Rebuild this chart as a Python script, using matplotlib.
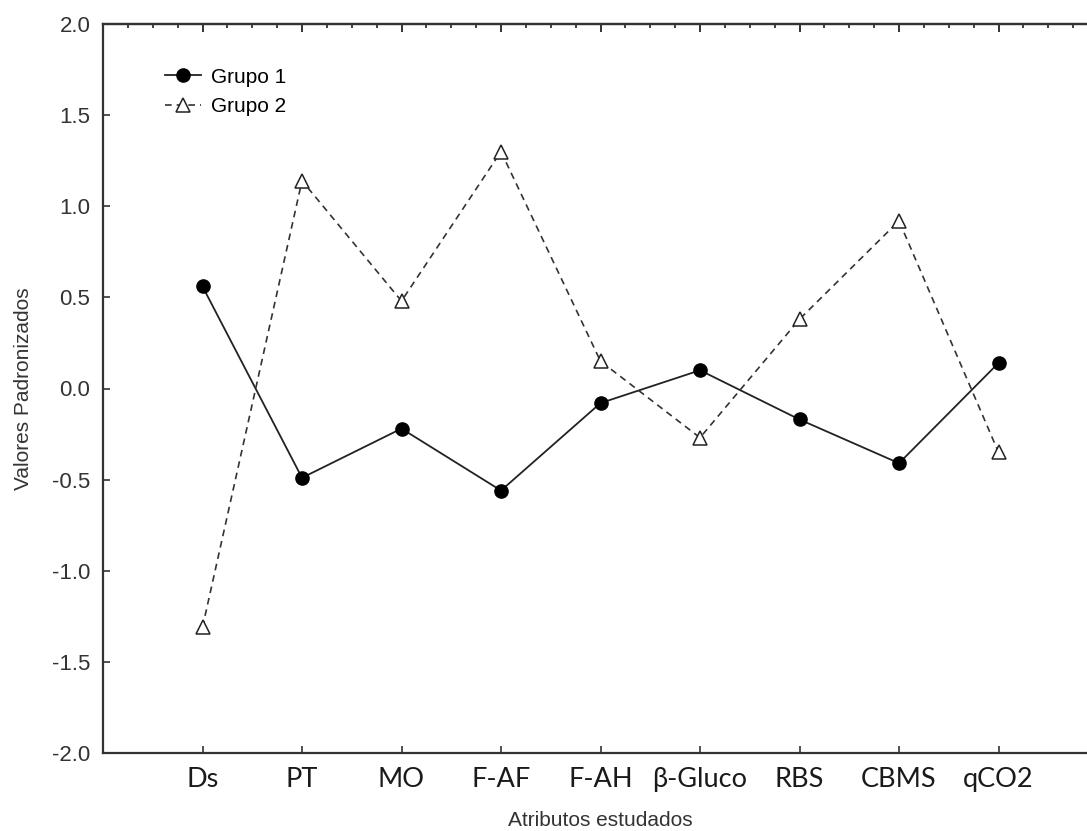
import matplotlib
matplotlib.use("Agg")
import matplotlib.pyplot as plt
from matplotlib.ticker import MultipleLocator

categories = ["Ds", "PT", "MO", "F-AF", "F-AH", "β-Gluco", "RBS", "CBMS", "qCO2"]
grupo1 = [0.56, -0.49, -0.22, -0.56, -0.08, 0.10, -0.17, -0.41, 0.14]
grupo2 = [-1.31, 1.14, 0.48, 1.30, 0.15, -0.27, 0.38, 0.92, -0.35]
yticks = [-2.0, -1.5, -1.0, -0.5, 0.0, 0.5, 1.0, 1.5, 2.0]

plt.rcParams['font.family'] = ['Liberation Sans', 'DejaVu Sans']

fig = plt.figure(figsize=(10.87, 8.31), dpi=100)
ax = fig.add_axes([103/1087, 78/831, 995/1087, 729/831])

x = list(range(1, len(categories) + 1))
ax.plot(x, grupo1, '-', color='#222222', lw=1.3, marker='o', ms=9.5,
        mfc='black', mec='black', label='Grupo 1', clip_on=False)
ax.plot(x, grupo2, '--', color='#333333', lw=1.2, dashes=(4, 3), marker='^', ms=10,
        mfc='white', mec='#222222', mew=1.1, label='Grupo 2', clip_on=False)

ax.set_xlim(0, 10)
ax.set_ylim(-2.0, 2.0)

ax.set_xticks(x)
ax.set_xticklabels(categories, fontsize=19.5, family=['Lato', 'DejaVu Sans'], color='#1a1a1a')
ax.set_yticks(yticks)
ax.set_yticklabels([f"{v:.1f}" for v in yticks], fontsize=16, color='#333333')

ax.tick_params(axis='both', direction='in', length=5, width=1.2, colors='#333333')
ax.tick_params(axis='x', labelcolor='#1a1a1a', pad=10)
ax.tick_params(axis='y', labelcolor='#333333', pad=9)
ax.tick_params(top=False, right=False)

secx = ax.secondary_xaxis('top')
secx.set_xticks(range(0, 11))
secx.xaxis.set_minor_locator(MultipleLocator(0.25))
secx.tick_params(axis='x', which='major', direction='in', length=6, width=1.4, labeltop=False, colors='#333333')
secx.tick_params(axis='x', which='minor', direction='in', length=3, width=1.3, colors='#333333')
secx.set_xticklabels([])

for s in ['left', 'bottom', 'top', 'right']:
    ax.spines[s].set_linewidth(1.6)
    ax.spines[s].set_color('#333333')
secx.spines['top'].set_linewidth(1.6)
secx.spines['top'].set_color('#333333')

ax.set_xlabel("Atributos estudados", fontsize=15, color='#333333', labelpad=14)
ax.set_ylabel("Valores Padronizados", fontsize=15, color='#333333', labelpad=14)

leg = ax.legend(loc='upper left', bbox_to_anchor=(0.043, 0.966), frameon=False,
                fontsize=15, handlelength=1.75, handletextpad=0.5, labelspacing=0.5,
                markerscale=1.0)

fig.savefig("out.png", dpi=100)
